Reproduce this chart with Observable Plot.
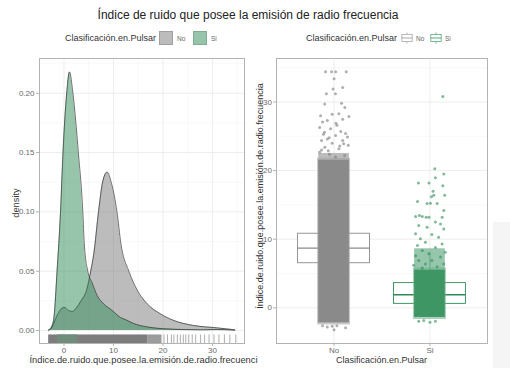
<!DOCTYPE html>
<html><head><meta charset="utf-8">
<script src="https://cdn.jsdelivr.net/npm/d3@7"></script>
<script src="https://cdn.jsdelivr.net/npm/@observablehq/plot@0.6"></script>
<style>
body{margin:0;background:#fff;font-family:"Liberation Sans",Arial,sans-serif;}
#wrap{position:relative;width:510px;height:368px;overflow:hidden;background:#fff;}
.abs{position:absolute;white-space:nowrap;}
</style></head><body><div id="wrap"></div>
<script>
// ---------- data ----------
const groups = ["No", "Si"];
const groupColors = ["#8a8a8a", "#2e8b57"];

// density curves (left panel)
const densNoX = [-3.1, -2.4, -1.4, -0.6, 0.1, 0.9, 1.7, 2.5, 3.3, 4.7, 5.4, 6.0, 7.0, 7.8, 8.7, 9.6, 10.7, 11.5, 13.1, 14.8, 16.8, 19.5, 22.2, 26.2, 31.0, 34.5];
const densNoY = [0.0004, 0.003, 0.0126, 0.018, 0.0195, 0.017, 0.016, 0.019, 0.024, 0.036, 0.050, 0.064, 0.101, 0.125, 0.1335, 0.124, 0.100, 0.073, 0.050, 0.034, 0.0225, 0.014, 0.0084, 0.0042, 0.0022, 0.0006];
const densSiX = [-3.1, -2.5, -2.0, -1.4, -0.7, -0.2, 0.55, 1.1, 1.8, 2.9, 3.8, 4.1, 4.8, 5.7, 6.7, 8.0, 9.7, 11.4, 12.5, 14.0, 16.8, 20.0, 24.0, 28.0, 30.8, 34.5];
const densSiY = [0.0, 0.003, 0.012, 0.050, 0.100, 0.150, 0.200, 0.218, 0.200, 0.150, 0.100, 0.073, 0.050, 0.040, 0.0295, 0.0225, 0.017, 0.011, 0.009, 0.006, 0.003, 0.0015, 0.0008, 0.0005, 0.0008, 0.0002];

// rug (left panel)
const rugBandFrom = [-3.1, 17.0, -1.3];
const rugBandTo   = [17.0, 19.8, 2.8];
const rugBandColor = ["#7d7d7d", "#9c9c9c", "#728c7c"];
const rugSparse = [20.2, 20.9, 21.7, 22.2, 22.9, 23.5, 24.1, 24.6, 25.2, 25.9, 26.6, 27.6, 28.4, 29.3, 30.3, 31.3, 32.4, 33.5, 34.7];

// box statistics (right panel)
const boxQ1 = [6.5, 0.58];
const boxMed = [8.7, 1.9];
const boxQ3 = [10.8, 3.6];
const whiskLo = [0.05, -1.4];
const whiskHi = [17.3, 8.1];

// dense jitter cores (right panel)
const coreLo = [-2.2, -1.4];
const coreHi = [21.5, 5.5];
const midLo = [19.0, 5.5];
const midHi = [22.5, 8.6];

// visible individual jittered points (offset from category, value)
const noPtOff = [-0.089, -0.026, 0.016, 0.127, 0.0, -0.01, 0.09, -0.08, 0.015, -0.097, 0.078, 0.113, -0.14, -0.02, 0.05, 0.155, 0.09, -0.12, -0.07, -0.15, 0.03, -0.036, -0.1, 0.07, 0.12, 0.016, -0.07, -0.13, 0.09, -0.02, 0.148, -0.096, 0.05, -0.15, -0.047, 0.11, 0.016, -0.12, -0.07, -0.02, 0.03, 0.12, 0.0, -0.13, 0.06, -0.05, 0.14, -0.11, 0.02, 0.1, -0.06];
const noPtY   = [34.4, 34.4, 34.4, 34.4, 33.4, 31.9, 32.1, 31.2, 31.2, 29.7, 29.8, 29.2, 28.0, 28.2, 28.3, 27.9, 27.5, 27.1, 27.3, 26.3, 26.6, 26.1, 25.6, 25.7, 25.4, 25.1, 24.6, 24.4, 24.4, 24.0, 23.7, 23.4, 23.2, 22.7, 22.4, 22.2, 22.0, -2.6, -2.8, -2.7, -2.6, -2.9, -3.2, 23.0, 23.6, 24.8, 24.9, 25.3, 26.9, 23.9, 22.9];
const siPtOff = [0.134, 0.05, 0.144, 0.057, -0.12, -0.01, 0.134, 0.033, 0.016, 0.04, 0.154, -0.13, -0.03, 0.005, 0.075, 0.144, -0.15, -0.11, -0.08, -0.04, 0.127, -0.01, 0.057, 0.11, -0.117, -0.03, 0.144, -0.15, 0.02, 0.09, -0.1, -0.047, 0.127, -0.13, 0.057, -0.08, 0.16, -0.012, -0.15, 0.11, -0.117, 0.02, -0.047, 0.144, -0.17, 0.075, -0.08, -0.117, -0.065, 0.0, 0.057];
const siPtY   = [30.8, 20.26, 19.5, 18.95, 18.2, 18.2, 17.8, 17.0, 16.2, 16.4, 16.4, 15.5, 15.2, 15.25, 15.2, 14.2, 13.3, 13.45, 13.3, 13.2, 13.2, 13.2, 12.5, 12.2, 12.0, 11.75, 11.5, 10.8, 10.7, 10.3, 10.06, 9.56, 9.3, 9.1, 8.8, 8.35, 8.1, 7.87, 7.6, 7.4, 6.9, 6.9, 6.4, 6.4, 6.2, 6.0, 5.8, -1.95, -1.85, -2.1, -1.95];

// ticks
const lxTicks = [0, 10, 20, 30];
const lyTicks = [0, 0.05, 0.10, 0.15, 0.20];
const lxMinor = [5, 15, 25, 35];
const lyMinor = [0.025, 0.075, 0.125, 0.175, 0.225];
const ryTicks = [0, 10, 20, 30];
const ryMinor = [5, 15, 25, 35];

// texts
const title = "Índice de ruido que posee la emisión de radio frecuencia";
const legendTitle = "Clasificación.en.Pulsar";
const leftXTitle = "Índice.de.ruido.que.posee.la.emisión.de.radio.frecuenci";
const leftYTitle = "density";
const rightXTitle = "Clasificación.en.Pulsar";
const rightYTitle = "Índice.de.ruido.que.posee.la.emisión.de.radio.frecuencia";

// ---------- build ----------
const wrap = document.getElementById("wrap");
function addText(txt, css) {
  const d = document.createElement("div");
  d.className = "abs";
  d.textContent = txt;
  d.style.cssText += css;
  wrap.appendChild(d);
  return d;
}
const font = '"Liberation Sans", Arial, sans-serif';
const gridMajor = "#e8e8e8", gridMinor = "#f4f4f4", frameCol = "#b3b3b3", tickTxt = "#6a6a6a";

// left: density
const noDens = densNoX.map((x, i) => ({x, y: densNoY[i]}));
const siDens = densSiX.map((x, i) => ({x, y: densSiY[i]}));
const lyDom = [-0.01096, 0.2293];
const rugTop = lyDom[0] + 0.03 * (lyDom[1] - lyDom[0]);
const rugBands = rugBandFrom.map((a, i) => ({x1: a, x2: rugBandTo[i], c: rugBandColor[i]}));

const left = Plot.plot({
  width: 255, height: 318,
  marginLeft: 39, marginRight: 11, marginTop: 8, marginBottom: 25,
  x: {domain: [-4.95, 36.46]},
  y: {domain: lyDom},
  style: {fontFamily: font, fontSize: "8px", color: tickTxt, background: "transparent", overflow: "visible"},
  marks: [
    Plot.ruleX(lxMinor, {stroke: gridMinor, strokeWidth: 0.6}),
    Plot.ruleY(lyMinor, {stroke: gridMinor, strokeWidth: 0.6}),
    Plot.ruleX(lxTicks, {stroke: gridMajor, strokeWidth: 0.8}),
    Plot.ruleY(lyTicks, {stroke: gridMajor, strokeWidth: 0.8}),
    Plot.areaY(noDens, {x: "x", y: "y", fill: "#7a7a7a", fillOpacity: 0.5, curve: "monotone-x"}),
    Plot.lineY(noDens, {x: "x", y: "y", stroke: "#333", strokeWidth: 0.7, curve: "monotone-x"}),
    Plot.areaY(siDens, {x: "x", y: "y", fill: "#2e8b57", fillOpacity: 0.5, curve: "monotone-x"}),
    Plot.lineY(siDens, {x: "x", y: "y", stroke: "#333", strokeWidth: 0.7, curve: "monotone-x"}),
    Plot.rect(rugBands, {x1: "x1", x2: "x2", y1: lyDom[0], y2: rugTop, fill: "c"}),
    Plot.ruleX(rugSparse, {y1: lyDom[0], y2: rugTop, stroke: "#8a8a8a", strokeWidth: 0.7}),
    Plot.frame({stroke: frameCol}),
    Plot.axisX({ticks: lxTicks, tickSize: 3, tickPadding: 1, label: null, stroke: frameCol, fill: tickTxt}),
    Plot.axisY({ticks: lyTicks, tickFormat: d3.format(".2f"), tickSize: 3, tickPadding: 2, label: null, stroke: frameCol, fill: tickTxt})
  ]
});
left.style.position = "absolute"; left.style.left = "0px"; left.style.top = "50px";
wrap.appendChild(left);

// right: box + jitter
const ryDom = [-5.2, 36.34];
const boxes = groups.map((g, i) => ({i: i + 1, q1: boxQ1[i], med: boxMed[i], q3: boxQ3[i], lo: whiskLo[i], hi: whiskHi[i], c: groupColors[i]}));
const cores = groups.map((g, i) => ({i: i + 1, lo: coreLo[i], hi: coreHi[i]}));
const mids = groups.map((g, i) => ({i: i + 1, lo: midLo[i], hi: midHi[i]}));
const noPts = noPtOff.map((o, k) => ({x: 1 + o, y: noPtY[k]}));
const siPts = siPtOff.map((o, k) => ({x: 2 + o, y: siPtY[k]}));
const hw = 0.375, jw = 0.16, jwSoft = 0.172;

const right = Plot.plot({
  width: 255, height: 318,
  marginLeft: 21, marginRight: 23, marginTop: 8, marginBottom: 25,
  x: {domain: [0.4, 2.6]},
  y: {domain: ryDom},
  style: {fontFamily: font, fontSize: "8px", color: tickTxt, background: "transparent", overflow: "visible"},
  marks: [
    Plot.ruleY(ryMinor, {stroke: gridMinor, strokeWidth: 0.6}),
    Plot.ruleY(ryTicks, {stroke: gridMajor, strokeWidth: 0.8}),
    Plot.ruleX([1, 2], {stroke: gridMajor, strokeWidth: 0.8}),
    Plot.ruleX(boxes, {x: "i", y1: "lo", y2: "hi", stroke: "c", strokeWidth: 0.8}),
    Plot.rect(boxes, {x1: d => d.i - hw, x2: d => d.i + hw, y1: "q1", y2: "q3", fill: "white", stroke: "c", strokeWidth: 0.9}),
    Plot.ruleY(boxes, {y: "med", x1: d => d.i - hw, x2: d => d.i + hw, stroke: "c", strokeWidth: 1.4}),
    Plot.rect(mids, {x1: d => d.i - jw, x2: d => d.i + jw, y1: "lo", y2: "hi", fill: (d) => d.i === 1 ? "#a0a0a0" : "#6aae89", fillOpacity: 0.7}),
    Plot.rect(cores, {x1: d => d.i - jwSoft, x2: d => d.i + jwSoft, y1: d => d.lo - 0.3, y2: d => d.hi + 0.3, fill: (d) => d.i === 1 ? "#a4a4a4" : "#6fb18d", fillOpacity: 0.6}),
    Plot.rect(cores, {x1: d => d.i - jw, x2: d => d.i + jw, y1: "lo", y2: "hi", fill: (d) => d.i === 1 ? "#8a8a8a" : "#3d9664"}),
    Plot.dot(noPts, {x: "x", y: "y", r: 1.5, fill: "#7a7a7a", fillOpacity: 0.6}),
    Plot.dot(siPts, {x: "x", y: "y", r: 1.5, fill: "#2e8b57", fillOpacity: 0.6}),
    Plot.frame({stroke: frameCol}),
    Plot.axisX({ticks: [1, 2], tickFormat: d => groups[d - 1], tickSize: 3, tickPadding: 1, label: null, stroke: frameCol, fill: tickTxt}),
    Plot.axisY({ticks: ryTicks, tickSize: 3, tickPadding: 1.5, label: null, stroke: frameCol, fill: tickTxt})
  ]
});
right.style.position = "absolute"; right.style.left = "255px"; right.style.top = "50px";
wrap.appendChild(right);

// faint screenshot area at the right edge
const shade = document.createElement("div");
shade.style.cssText = "position:absolute;left:493px;top:222px;width:17px;height:146px;background:#f5f5f5;";
wrap.appendChild(shade);

// title
addText(title, "left:248px;top:8px;transform:translateX(-50%);font-size:12px;line-height:14px;color:#222;");

// legend 1 (fill)
addText(legendTitle, "left:65px;top:33px;font-size:9px;line-height:11px;color:#333;");
const sw1 = document.createElement("div");
sw1.style.cssText = "position:absolute;left:159px;top:31px;width:14px;height:14px;box-sizing:border-box;background:#bcbcbc;border:1px solid #a0a0a0;";
wrap.appendChild(sw1);
addText(groups[0], "left:177px;top:34.5px;font-size:6.5px;line-height:8px;color:#666;");
const sw2 = document.createElement("div");
sw2.style.cssText = "position:absolute;left:193px;top:31px;width:14px;height:14px;box-sizing:border-box;background:#96c5ab;border:1px solid #7eab92;";
wrap.appendChild(sw2);
addText(groups[1], "left:211px;top:34.5px;font-size:6.5px;line-height:8px;color:#666;");

// legend 2 (boxplot keys)
addText(legendTitle, "left:306px;top:33px;font-size:9px;line-height:11px;color:#333;");
function boxKey(x, col) {
  const ns = "http://www.w3.org/2000/svg";
  const s = document.createElementNS(ns, "svg");
  s.setAttribute("width", 14); s.setAttribute("height", 14);
  s.style.cssText = `position:absolute;left:${x}px;top:31px;`;
  s.innerHTML = `<line x1="7" x2="7" y1="1.5" y2="3.5" stroke="${col}" stroke-width="0.8"/>
    <line x1="7" x2="7" y1="10.5" y2="12.5" stroke="${col}" stroke-width="0.8"/>
    <rect x="1.8" y="3.5" width="10.4" height="7" fill="white" stroke="${col}" stroke-width="0.8"/>
    <line x1="1.8" x2="12.2" y1="7" y2="7" stroke="${col}" stroke-width="1"/>`;
  wrap.appendChild(s);
}
boxKey(400, "#a8a8a8");
addText(groups[0], "left:416px;top:34.5px;font-size:6.5px;line-height:8px;color:#666;");
boxKey(429, "#5aa77a");
addText(groups[1], "left:445px;top:34.5px;font-size:6.5px;line-height:8px;color:#666;");

// axis titles
addText(leftXTitle, "left:143.5px;top:355px;transform:translateX(-50%);font-size:9.3px;line-height:11px;color:#333;");
addText(rightXTitle, "left:381.5px;top:355px;transform:translateX(-50%);font-size:9px;line-height:11px;color:#333;");
addText(leftYTitle, "left:15.5px;top:203px;transform:translate(-50%,-50%) rotate(-90deg);font-size:9.3px;line-height:11px;color:#333;");
addText(rightYTitle, "left:259.5px;top:196px;transform:translate(-50%,-50%) rotate(-90deg);font-size:9px;line-height:11px;color:#333;");
</script></body></html>
